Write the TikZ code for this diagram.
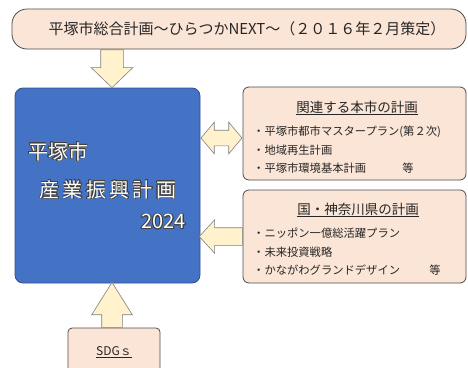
\documentclass[tikz,border=0pt]{standalone}
\usepackage{fontspec}
\setmainfont{Noto Sans CJK JP}
\usepackage{contour}
\contourlength{0.6pt}
\usetikzlibrary{shapes.arrows}
\definecolor{peach}{HTML}{FBE5D6}
\definecolor{cream}{HTML}{FFF2CC}
\definecolor{planblue}{HTML}{4472C4}
\definecolor{planedge}{HTML}{2F528F}
\begin{document}
\begin{tikzpicture}[x=1pt, y=-1pt,
        peachbox/.style={draw=black!70, fill=peach, line width=0.8pt, inner sep=0pt, rounded corners=6pt},
        planbox/.style={draw=planedge, fill=planblue, line width=0.8pt, inner sep=0pt, rounded corners=8pt},
        plantext/.style={text=white, inner sep=0pt, font=\fontsize{20}{20}\selectfont},
        boxtitle/.style={inner sep=0pt, text=black!85, font=\fontsize{13.5}{15}\selectfont},
        boxitem/.style={inner sep=0pt, anchor=west, text=black!85, font=\fontsize{11.3}{13}\selectfont},
        blockarrow/.style={single arrow, draw=black!50, fill=cream, line width=0.6pt, inner xsep=0pt, single arrow head indent=0pt},
        twoarrow/.style={double arrow, draw=black!50, fill=cream, line width=0.6pt, inner xsep=0pt, double arrow head indent=0pt}]
    \useasboundingbox (0,0) rectangle (468,367);
    \clip (0,0) rectangle (468,367);

    % banner
    \node[peachbox, rounded corners=15pt, minimum width=454pt, minimum height=40pt,
          font=\fontsize{15}{16}\selectfont, text=black!85] (sogo) at (239,29)
          {\hspace*{16pt}平塚市総合計画～ひらつかNEXT～（２０１６年２月策定）};

    % the plan itself
    \node[planbox, minimum width=185pt, minimum height=195pt] (plan) at (107.5,185.5) {};
    \node[plantext, anchor=west] (name) at (28,152) {\contour{black!75}{平塚市}};
    \node[plantext] (title) at (108,190) {\contour{black!75}{産\,業\,振\,興\,計\,画}};
    \node[plantext, anchor=east] (year) at (186,222) {\contour{black!75}{2024}};

    % related plans of the city
    \node[peachbox, minimum width=223pt, minimum height=93pt] (city) at (354.5,133.5) {};
    \node[boxtitle] (citytitle) at (357,108) {\underline{関連する本市の計画}};
    \node[boxitem] (c1) at (253,132) {・平塚市都市マスタープラン(第２次)};
    \node[boxitem] (c2) at (253,150) {・地域再生計画};
    \node[boxitem] (c3) at (253,168) {・平塚市環境基本計画\hspace{3.2em}等};

    % plans of the state and the prefecture
    \node[peachbox, minimum width=223pt, minimum height=93pt] (pref) at (354.5,236.5) {};
    \node[boxtitle] (preftitle) at (358,210) {\underline{国・神奈川県の計画}};
    \node[boxitem] (p1) at (253,233) {・ニッポン一億総活躍プラン};
    \node[boxitem] (p2) at (253,252) {・未来投資戦略};
    \node[boxitem] (p3) at (253,270) {・かながわグランドデザイン\hspace{2.6em}等};

    % SDGs
    \node[peachbox, rounded corners=4pt, minimum width=92pt, minimum height=52pt] (sdg) at (114,354) {};
    \node[inner sep=0pt, text=black!85, font=\fontsize{12}{14}\selectfont] (sdgtext) at (114,352) {\underline{SDGｓ}};

    % arrows
    \node[blockarrow, rotate=-90, anchor=tail, minimum height=38pt, inner ysep=11pt,
          single arrow head extend=9.5pt, single arrow tip angle=92] (down) at (112,0 |- sogo.south) {};
    \node[twoarrow, minimum height=41pt, inner ysep=7.5pt,
          double arrow head extend=8pt, double arrow tip angle=100] (both) at (221.5,138) {};
    \node[blockarrow, rotate=180, anchor=tail, minimum height=43pt, inner ysep=8.5pt,
          single arrow head extend=8pt, single arrow tip angle=95] (left) at (pref.west) {};
    \node[blockarrow, rotate=90, anchor=tail, minimum height=45pt, inner ysep=10pt,
          single arrow head extend=10pt, single arrow tip angle=64] (up) at (112,0 |- sdg.north) {};
\end{tikzpicture}
\end{document}
